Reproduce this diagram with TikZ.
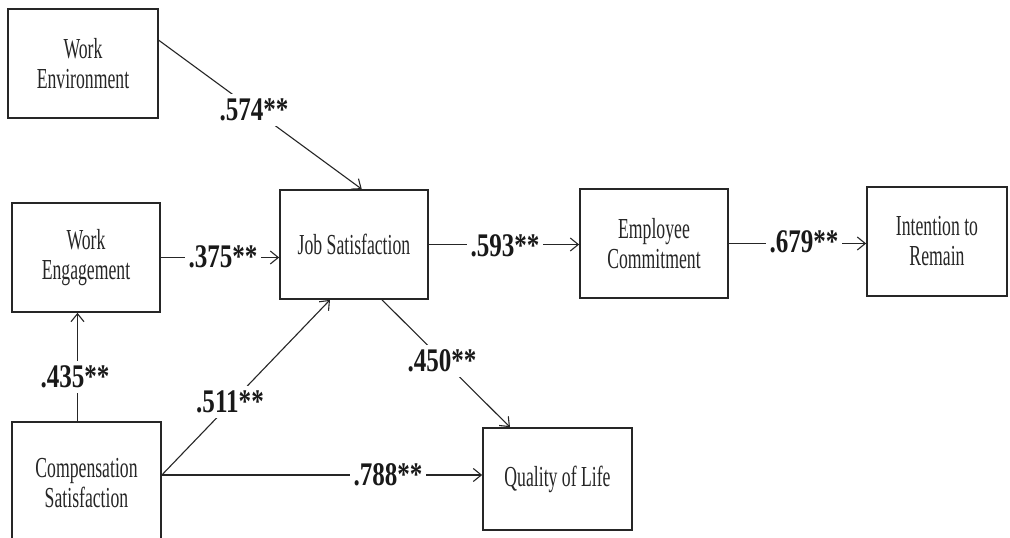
\documentclass[tikz,border=0pt]{standalone}
\usepackage{fontspec}
\setmainfont{Liberation Serif}
\newfontfamily\boxfont[FakeStretch=0.61]{Liberation Serif}
\newfontfamily\labfont[FakeStretch=0.76]{Liberation Serif}
\usetikzlibrary{arrows.meta,calc}
\begin{document}
\begin{tikzpicture}[x=1pt,y=-1pt,
  box/.style={draw=black!85, line width=1.7pt, align=center, inner sep=0pt,
    font=\boxfont\fontsize{29}{30}\selectfont, text=black!85},
  lab/.style={font=\labfont\bfseries\fontsize{33}{33}\selectfont, fill=white, inner xsep=4pt, inner ysep=5pt, text=black!90},
  ln/.style={draw=black!85, line width=1.1pt},
  arr/.style={ln, -{Straight Barb[length=8pt,width=13pt,line width=1.1pt]}}]
\useasboundingbox[fill=white] (0,0) rectangle (1010,538);

\node[box, minimum width=150pt, minimum height=109pt] (WEnv) at (83,63.5) {Work\\Environment};
\node[box, minimum width=148pt, minimum height=109pt] (WE) at (86,257.5) {Work\\Engagement};
\node[box, minimum width=149pt, minimum height=123pt] (CS) at (86.5,483.5) {Compensation\\Satisfaction};
\node[box, minimum width=148pt, minimum height=109pt] (JS) at (354,244.5) {Job Satisfaction};
\node[box, minimum width=148pt, minimum height=109pt] (EC) at (654,243.5) {Employee\\Commitment};
\node[box, minimum width=140pt, minimum height=109pt] (IR) at (937,241.5) {Intention to\\Remain};
\node[box, minimum width=149pt, minimum height=102pt] (QoL) at (557.5,479) {Quality of Life};

% connectors
\draw[arr] (WEnv.17) -- (JS.82);
\draw[arr] (WE.east) -- (WE.east -| JS.west);
\draw[arr] ([xshift=-9pt]CS.north) -- ([xshift=-9pt]CS.north |- WE.south);
\draw[arr] ([yshift=4pt]QoL.west -| CS.east) -- ([xshift=-24pt]JS.south);
\draw[arr] ([yshift=4pt]QoL.west -| CS.east) -- ([yshift=4pt]QoL.west);
\draw[arr] ([xshift=28pt]JS.south) -- ([xshift=-47.5pt]QoL.north);
\draw[arr] (JS.east) -- (JS.east -| EC.west);
\draw[arr] (EC.east) -- (EC.east -| IR.west);

% labels
\node[lab] (l574) at (254,110) {.574**};
\node[lab] (l375) at (223,257) {.375**};
\node[lab] (l593) at (505,246) {.593**};
\node[lab] (l679) at (804,242) {.679**};
\node[lab] (l435) at (75,377) {.435**};
\node[lab] (l511) at (230,402) {.511**};
\node[lab] (l450) at (442,361) {.450**};
\node[lab] (l788) at (388,475) {.788**};
\end{tikzpicture}
\end{document}
